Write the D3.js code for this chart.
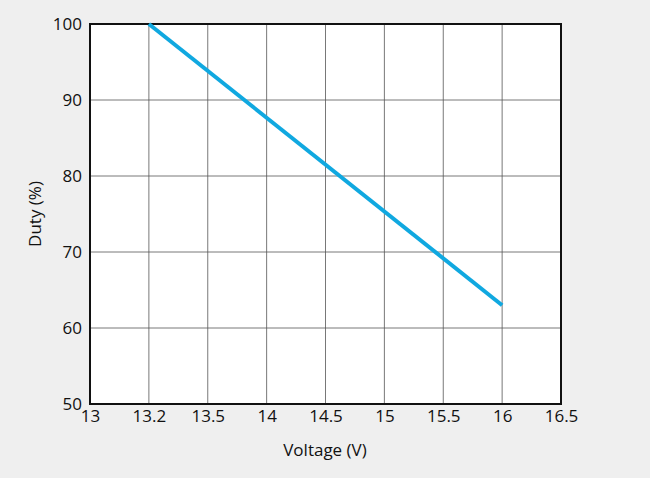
<!DOCTYPE html>
<html><head><meta charset="utf-8">
<script src="https://cdn.jsdelivr.net/npm/d3@7"></script>
<style>body{margin:0;background:#efefef;font-family:"Open Sans",sans-serif;}</style>
</head><body>
<svg width="650" height="478"></svg>
<script>
var xLabels = ['13', '13.2', '13.5', '14', '14.5', '15', '15.5', '16', '16.5'];
var yTicks = [50, 60, 70, 80, 90, 100];
var lineX = ['13.2', '16'];
var lineY = [100, 63];

var svg = d3.select('svg');
var padding = {t: 24, r: 89, b: 74, l: 90};
var w = 650 - padding.l - padding.r;
var h = 478 - padding.t - padding.b;

var g = svg.append('g').attr('transform', 'translate(' + [padding.l, padding.t] + ')');

var x = d3.scalePoint().domain(xLabels).range([0, w]);
var y = d3.scaleLinear().domain([50, 100]).range([h, 0]);

g.append('rect').attr('width', w).attr('height', h).attr('fill', '#fff');

g.selectAll('.vg').data(xLabels).enter().append('line')
	.attr('x1', function(d) { return x(d); }).attr('x2', function(d) { return x(d); })
	.attr('y1', 0).attr('y2', h).attr('stroke', '#555').attr('stroke-width', 0.8);
g.selectAll('.hg').data(yTicks).enter().append('line')
	.attr('y1', function(d) { return y(d); }).attr('y2', function(d) { return y(d); })
	.attr('x1', 0).attr('x2', w).attr('stroke', '#555').attr('stroke-width', 0.8);

g.append('rect').attr('width', w).attr('height', h).attr('fill', 'none')
	.attr('stroke', '#111').attr('stroke-width', 2);

var xAxis = g.append('g').attr('transform', 'translate(0,' + h + ')')
	.call(d3.axisBottom(x).tickSize(0).tickPadding(6));
var yAxis = g.append('g').call(d3.axisLeft(y).tickValues(yTicks).tickSize(0).tickPadding(8));
[xAxis, yAxis].forEach(function(a) {
	a.select('.domain').remove();
	a.selectAll('text').attr('font-size', 17).attr('fill', '#111').attr('font-family', '"Open Sans",sans-serif');
});

var pts = lineX.map(function(d, i) { return [x(d), y(lineY[i])]; });
g.append('path').attr('d', d3.line()(pts)).attr('fill', 'none')
	.attr('stroke', '#10a8e0').attr('stroke-width', 4);

svg.append('text').attr('x', 325).attr('y', 456).attr('text-anchor', 'middle')
	.attr('font-size', 17).attr('fill', '#111').text('Voltage (V)');
svg.append('text').attr('transform', 'translate(41,' + (padding.t + h / 2) + ') rotate(-90)')
	.attr('text-anchor', 'middle').attr('font-size', 17).attr('fill', '#111').text('Duty (%)');
</script>
</body></html>
